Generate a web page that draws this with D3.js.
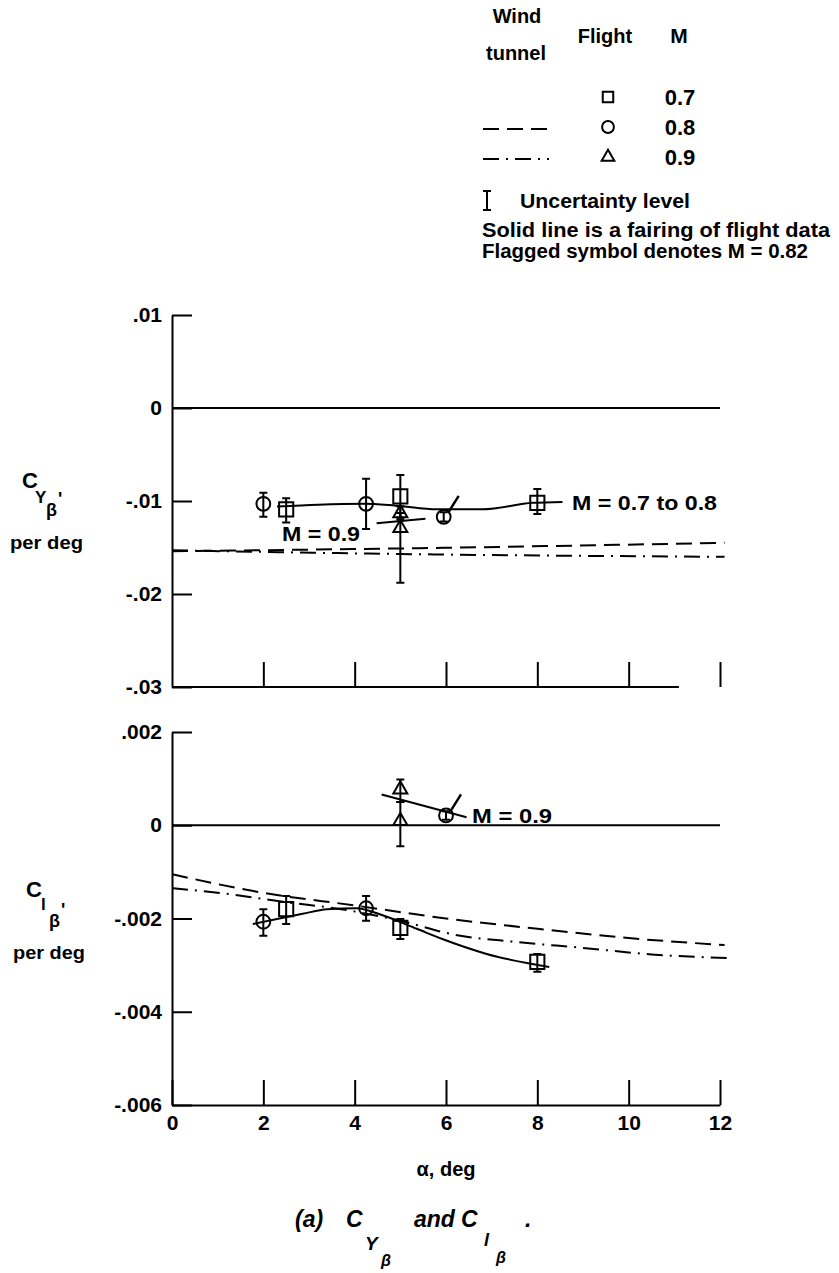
<!DOCTYPE html>
<meta charset="utf-8">
<script src="https://cdn.jsdelivr.net/npm/d3@7/dist/d3.min.js"></script>
<style>
body { margin: 0; background: #fff; }
text { font-family: "Liberation Sans", Arial, sans-serif; font-weight: bold; fill: #000; }
.axis path, .axis line { stroke: #000; stroke-width: 2px; }
.axis text { font-size: 21px; font-family: "Liberation Sans", Arial, sans-serif; font-weight: bold; }
</style>
<body>
<script>

// tick values
var alphaTicks = [0, 2, 4, 6, 8, 10, 12];
var alphaLabels = ["0", "2", "4", "6", "8", "10", "12"];
var cyTicks = [0.01, 0, -0.01, -0.02, -0.03];
var cyLabels = [".01", "0", "-.01", "-.02", "-.03"];
var clTicks = [0.002, 0, -0.002, -0.004, -0.006];
var clLabels = [".002", "0", "-.002", "-.004", "-.006"];

// flight data: alpha, value, uncertainty low/high, Mach (0.82 = flagged)
var cyFlight = [
  [2.0, -0.0103, -0.0117, -0.0091, 0.8],
  [2.5, -0.0109, -0.0123, -0.0097, 0.7],
  [4.25, -0.0103, -0.0130, -0.0076, 0.8],
  [5.0, -0.0095, -0.0118, -0.0072, 0.7],
  [5.0, -0.0113, -0.0120, -0.0106, 0.9],
  [5.0, -0.0129, -0.0188, -0.0113, 0.9],
  [5.95, -0.0117, -0.0122, -0.0112, 0.82],
  [8.0, -0.0102, -0.0114, -0.0087, 0.7]
];
var clFlight = [
  [2.0, -0.00207, -0.00237, -0.00180, 0.8],
  [2.5, -0.00180, -0.00212, -0.00152, 0.7],
  [4.25, -0.00178, -0.00205, -0.00152, 0.8],
  [5.0, -0.00220, -0.00244, -0.00201, 0.7],
  [8.0, -0.00293, -0.00314, -0.00276, 0.7],
  [5.0, 0.00077, 0.00050, 0.00098, 0.9],
  [5.0, 0.00009, -0.00045, 0.00050, 0.9],
  [6.0, 0.00021, 0.00012, 0.00030, 0.82]
];

// fairings of flight data
var cyFairLow = [[2.3, -0.0106], [3.2, -0.0104], [4.2, -0.0103], [4.9, -0.0105], [5.8, -0.0109], [6.8, -0.0109], [7.9, -0.0102], [8.55, -0.0101]];
var cyFairM9 = [[4.48, -0.0124], [5.55, -0.0119]];
var clFairLow = [[1.77, -0.00212], [2.86, -0.00190], [3.39, -0.00180], [4.04, -0.00178], [4.61, -0.00193], [5.36, -0.00222], [5.92, -0.00244], [6.89, -0.00276], [8.26, -0.00304]];
var clFairM9 = [[4.59, 0.00066], [6.45, 0.00017]];

// wind tunnel
var cyTunnel8 = [[0, -0.0154], [5, -0.0151], [12.1, -0.0145]];
var cyTunnel9 = [[0, -0.0153], [5, -0.0157], [12.1, -0.0160]];
var clTunnel8 = [[0, -0.00105], [2, -0.00145], [4, -0.00172], [6, -0.00200], [8, -0.00222], [10, -0.00242], [12.1, -0.00257]];
var clTunnel9 = [[0, -0.00135], [1.2, -0.00147], [2.5, -0.00165], [3.7, -0.00180], [5, -0.00205], [6.2, -0.00235], [7.5, -0.00250], [9, -0.00263], [10.5, -0.00277], [12.2, -0.00285]];

var legendMach = [0.7, 0.8, 0.9];

var width = 839, height = 1273;

var svg = d3.select("body").append("svg")
    .attr("width", width)
    .attr("height", height);

svg.append("rect").attr("width", width).attr("height", height).attr("fill", "#fff");

var x = d3.scaleLinear().domain([0, 12]).range([172, 720]);
var yTop = d3.scaleLinear().domain([-0.03, 0.01]).range([687, 315]);
var yBot = d3.scaleLinear().domain([-0.006, 0.002]).range([1105, 732]);

var dashStyle = {0.8: "16,8", 0.9: "16,7,2,7"};

function symbolPath(m) {
  if (m == 0.7) return d3.symbol().type(d3.symbolSquare).size(200)();
  if (m == 0.9) return d3.symbol().type(d3.symbolTriangle).size(85)();
  return d3.symbol().type(d3.symbolCircle).size(150)();
}

// ---- axes ----
function leftAxis(y, ticks, labels) {
  var ax = d3.axisLeft(y).tickValues(ticks)
      .tickFormat(function(d, i) { return labels[i]; })
      .tickSizeInner(-20).tickSizeOuter(0).tickPadding(10);
  svg.append("g").attr("class", "axis").attr("transform", "translate(" + x(0) + ",0)").call(ax);
}
leftAxis(yTop, cyTicks, cyLabels);
leftAxis(yBot, clTicks, clLabels);

// upper panel baseline, ticks without labels
var topX = svg.append("g").attr("class", "axis")
    .attr("transform", "translate(0," + yTop(-0.03) + ")")
    .call(d3.axisBottom(x).tickValues(alphaTicks.slice(1)).tickSizeInner(-25).tickSizeOuter(0).tickFormat(""));
topX.select(".domain").attr("d", "M" + x(0) + ",0H" + x(11.1));

svg.append("g").attr("class", "axis")
    .attr("transform", "translate(0," + yBot(-0.006) + ")")
    .call(d3.axisBottom(x).tickValues(alphaTicks)
      .tickFormat(function(d, i) { return alphaLabels[i]; })
      .tickSizeInner(-25).tickSizeOuter(0).tickPadding(10));

// zero lines
[[yTop], [yBot]].forEach(function(s) {
  svg.append("line")
      .attr("x1", x(0)).attr("x2", x(12))
      .attr("y1", s[0](0)).attr("y2", s[0](0))
      .attr("stroke", "#000").attr("stroke-width", 2);
});

// ---- lines ----
function drawLine(data, y, dash) {
  var line = d3.line()
      .x(function(d) { return x(d[0]); })
      .y(function(d) { return y(d[1]); })
      .curve(d3.curveMonotoneX);
  svg.append("path")
      .attr("d", line(data))
      .attr("fill", "none")
      .attr("stroke", "#000")
      .attr("stroke-width", 2)
      .attr("stroke-dasharray", dash || null);
}

drawLine(cyTunnel8, yTop, dashStyle[0.8]);
drawLine(cyTunnel9, yTop, dashStyle[0.9]);
drawLine(clTunnel8, yBot, dashStyle[0.8]);
drawLine(clTunnel9, yBot, dashStyle[0.9]);
drawLine(cyFairLow, yTop);
drawLine(cyFairM9, yTop);
drawLine(clFairLow, yBot);
drawLine(clFairM9, yBot);

// ---- flight symbols ----
function drawPoints(data, y) {
  var g = svg.append("g");
  var pt = g.selectAll("g.pt").data(data).enter().append("g")
      .attr("class", "pt")
      .attr("transform", function(d) { return "translate(" + x(d[0]) + "," + y(d[1]) + ")"; });

  pt.append("path")
      .attr("d", function(d) { return symbolPath(d[4]); })
      .attr("fill", "none")
      .attr("stroke", "#000")
      .attr("stroke-width", 2);

  // uncertainty bars
  pt.append("path")
      .attr("d", function(d) {
        var t = y(d[3]) - y(d[1]), b = y(d[2]) - y(d[1]);
        return "M0," + t + "V" + b + "M-4," + t + "H4M-4," + b + "H4";
      })
      .attr("fill", "none")
      .attr("stroke", "#000")
      .attr("stroke-width", 2);

  // flag for M = 0.82
  pt.filter(function(d) { return d[4] == 0.82; })
    .append("line")
      .attr("x1", 5).attr("y1", -5)
      .attr("x2", 15).attr("y2", -21)
      .attr("stroke", "#000")
      .attr("stroke-width", 2.5);
}
drawPoints(cyFlight, yTop);
drawPoints(clFlight, yBot);

// ---- annotations ----
function label(txt, px, py, size, len, anchor) {
  var t = svg.append("text").attr("x", px).attr("y", py)
      .style("font-size", size + "px")
      .attr("text-anchor", anchor || "start")
      .text(txt);
  if (len) t.attr("textLength", len).attr("lengthAdjust", "spacingAndGlyphs");
  return t;
}

label("M = 0.7 to 0.8", 572, 510, 21, 145);
label("M = 0.9", 282, 541, 21, 78);
label("M = 0.9", 472, 823, 21, 80);

// y titles
label("C", 22, 488, 22);
label("Y", 35, 503, 17);
label("β", 46, 516, 18);
label("'", 58, 505, 18);
label("per deg", 10, 549, 19, 73);

label("C", 26, 897, 22);
label("l", 41, 910, 17);
label("β", 49, 927, 18);
label("'", 61, 916, 18);
label("per deg", 13, 959, 19, 72);

// x title
label("α, deg", 446, 1176, 20, null, "middle");

// caption
var cap = svg.append("g");
function capText(txt, px, py, size) {
  cap.append("text").attr("x", px).attr("y", py)
      .style("font-size", size + "px").style("font-weight", "bold")
      .style("font-style", "italic").text(txt);
}
capText("(a)", 295, 1227, 23);
capText("C", 346, 1227, 23);
capText("Y", 365, 1250, 19);
capText("β", 381, 1266, 16);
capText("and", 414, 1227, 23);
capText("C", 461, 1227, 23);
capText("l", 484, 1246, 18);
capText("β", 496, 1263, 16);
capText(".", 525, 1227, 23);

// ---- legend ----
label("Wind", 517, 23, 20, null, "middle");
label("tunnel", 516, 60, 20, null, "middle");
label("Flight", 605, 43, 20, null, "middle");
label("M", 679, 43, 21, null, "middle");

var legY = d3.scalePoint().domain(legendMach).range([97, 157]);

svg.append("g").selectAll("path").data(legendMach).enter().append("path")
    .attr("transform", function(d) { return "translate(608," + legY(d) + ")"; })
    .attr("d", function(d) {
      if (d == 0.7) return d3.symbol().type(d3.symbolSquare).size(110)();
      if (d == 0.9) return d3.symbol().type(d3.symbolTriangle).size(70)();
      return d3.symbol().type(d3.symbolCircle).size(110)();
    })
    .attr("fill", "none").attr("stroke", "#000").attr("stroke-width", 2);

svg.append("g").selectAll("text").data(legendMach).enter().append("text")
    .attr("x", 680).attr("y", function(d) { return legY(d) + 8; })
    .attr("text-anchor", "middle")
    .style("font-size", "22px")
    .text(function(d) { return d3.format(".1f")(d); });

legendMach.slice(1).forEach(function(m) {
  svg.append("line")
      .attr("x1", 483).attr("x2", 549)
      .attr("y1", legY(m) + 2).attr("y2", legY(m) + 2)
      .attr("stroke", "#000").attr("stroke-width", 2)
      .attr("stroke-dasharray", dashStyle[m]);
});

svg.append("path")
    .attr("d", "M487,191V210M483,191H491M483,210H491")
    .attr("fill", "none").attr("stroke", "#000").attr("stroke-width", 2);
label("Uncertainty level", 520, 208, 20, 170);
label("Solid line is a fairing of flight data", 482, 237, 20, 348);
label("Flagged symbol denotes M = 0.82", 482, 258, 20, 326);

</script>
</body>
</html>
